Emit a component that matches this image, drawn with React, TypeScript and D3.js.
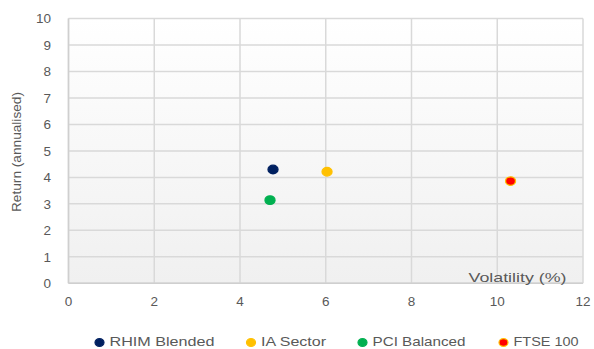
import React from "react";
import * as d3 from "d3";

const seriesNames = ["RHIM Blended", "IA Sector", "PCI Balanced", "FTSE 100"];
const volatility = [4.77, 6.03, 4.7, 10.31];
const returns = [4.3, 4.21, 3.14, 3.86];
const fills = ["#002060", "#FFC000", "#00B050", "#FF0000"];
const strokes = ["#002060", "#FFC000", "#00B050", "#FFC000"];
const xTicks = [0, 2, 4, 6, 8, 10, 12];
const yTicks = [0, 1, 2, 3, 4, 5, 6, 7, 8, 9, 10];
const legendX = [99.5, 251, 362.5, 503.5];
const legendTextW = [105, 65, 93, 65];

export default function App() {
  const W = 594, H = 349;
  const left = 68.5, right = 583, top = 18.5, bottom = 283.3;
  const x = d3.scaleLinear().domain([0, 12]).range([left, right]);
  const y = d3.scaleLinear().domain([0, 10]).range([bottom, top]);
  const font = "'Liberation Sans', Arial, sans-serif";
  const textColor = "#595959";
  return (
    <svg width={W} height={H} style={{ position: "absolute", left: 0, top: 0, background: "#fff" }}>
      <defs>
        <linearGradient id="bg" x1="0" y1="0" x2="0" y2="1">
          <stop offset="0" stopColor="#ffffff" />
          <stop offset="1" stopColor="#f0f0f0" />
        </linearGradient>
      </defs>
      <rect x={left} y={top} width={right - left} height={bottom - top} fill="url(#bg)" />
      {yTicks.map((t) => (
        <line key={"gy" + t} x1={left} x2={right} y1={y(t)} y2={y(t)} stroke="#d9d9d9" strokeWidth={1.5} />
      ))}
      {xTicks.map((t) => (
        <line key={"gx" + t} x1={x(t)} x2={x(t)} y1={top} y2={bottom} stroke="#d9d9d9" strokeWidth={1.5} />
      ))}
      <line x1={left} x2={left} y1={top} y2={bottom} stroke="#cfcfcf" strokeWidth={1.5} />
      <line x1={left} x2={right} y1={bottom} y2={bottom} stroke="#cfcfcf" strokeWidth={1.5} />
      {yTicks.map((t) => (
        <text key={"ty" + t} x={51} y={y(t)} dy="0.35em" textAnchor="end" fontFamily={font} fontSize={13.5} fill={textColor}>
          {t}
        </text>
      ))}
      {xTicks.map((t) => (
        <text key={"tx" + t} x={x(t)} y={305.5} textAnchor="middle" fontFamily={font} fontSize={13.5} fill={textColor}>
          {t}
        </text>
      ))}
      <text
        transform="translate(21,152) rotate(-90)"
        textAnchor="middle"
        fontFamily={font}
        fontSize={12.5}
        fill={textColor}
        textLength={120}
        lengthAdjust="spacingAndGlyphs"
      >
        Return (annualised)
      </text>
      <text x={468.5} y={282} fontFamily={font} fontSize={13} fill={textColor} textLength={98} lengthAdjust="spacingAndGlyphs">
        Volatility (%)
      </text>
      {seriesNames.map((n, i) => (
        <ellipse key={"p" + i} cx={x(volatility[i])} cy={y(returns[i])} rx={5} ry={4.3} fill={fills[i]} stroke={strokes[i]} strokeWidth={1.3} />
      ))}
      {seriesNames.map((n, i) => (
        <g key={"l" + i}>
          <ellipse cx={legendX[i]} cy={342.5} rx={4.5} ry={3.8} fill={fills[i]} stroke={strokes[i]} strokeWidth={1.2} />
          <text x={legendX[i] + 10} y={346} fontFamily={font} fontSize={13} fill={textColor} textLength={legendTextW[i]} lengthAdjust="spacingAndGlyphs">
            {n}
          </text>
        </g>
      ))}
    </svg>
  );
}
